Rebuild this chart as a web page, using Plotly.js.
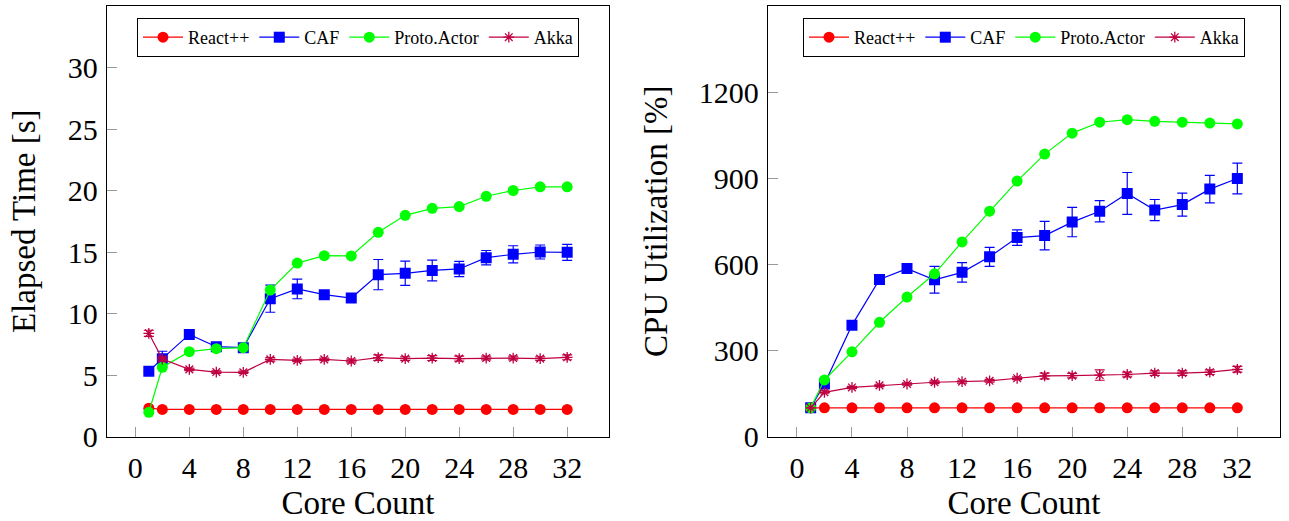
<!DOCTYPE html>
<html>
<head>
<meta charset="utf-8">
<script src="https://cdn.plot.ly/plotly-3.0.1.min.js"></script>
<style>html,body{margin:0;padding:0;background:#fff;}#chart{width:1289px;height:521px;}</style>
</head>
<body>
<div id="chart"></div>
<script>
// ---- data ----
const cores = [1, 2, 4, 6, 8, 10, 12, 14, 16, 18, 20, 22, 24, 26, 28, 30, 32];
const seriesNames = ["React++", "CAF", "Proto.Actor", "Akka"];

// Elapsed time [s]
const reactTime = [2.3, 2.2, 2.2, 2.2, 2.2, 2.2, 2.2, 2.2, 2.2, 2.2, 2.2, 2.2, 2.2, 2.2, 2.2, 2.2, 2.2];
const cafTime   = [5.3, 6.33, 8.3, 7.3, 7.22, 11.2, 12.0, 11.53, 11.26, 13.16, 13.27, 13.5, 13.62, 14.54, 14.81, 15.0, 14.97];
const protoTime = [1.97, 5.63, 6.9, 7.14, 7.22, 11.91, 14.1, 14.7, 14.68, 16.6, 17.98, 18.55, 18.69, 19.53, 20.0, 20.3, 20.3];
const akkaTime  = [8.39, 6.3, 5.46, 5.24, 5.22, 6.27, 6.19, 6.27, 6.14, 6.41, 6.33, 6.38, 6.33, 6.38, 6.38, 6.33, 6.44];
const cafTimeErr  = [0.05, 0.6, 0.1, 0.1, 0.15, 1.1, 0.8, 0.15, 0.15, 1.23, 0.99, 0.84, 0.62, 0.58, 0.7, 0.57, 0.65];
const akkaTimeErr = [0.25, 0.15, 0.1, 0.1, 0.1, 0.15, 0.1, 0.1, 0.15, 0.22, 0.15, 0.2, 0.2, 0.15, 0.15, 0.15, 0.2];

// CPU utilization [%]
const reactCpu = [100, 100, 100, 100, 100, 100, 100, 100, 100, 100, 100, 100, 100, 100, 100, 100, 100];
const cafCpu   = [100, 183, 388, 547, 585, 546, 572, 626, 693, 700, 747, 785, 847, 789, 808, 862, 899];
const protoCpu = [100, 197, 295, 398, 486, 567, 678, 785, 890, 984, 1057, 1095, 1104, 1098, 1095, 1092, 1089];
const akkaCpu  = [100, 154, 171, 178, 183, 189, 191, 194, 203, 211, 212, 214, 216, 221, 221, 224, 234];
const cafCpuErr  = [0, 10, 8, 8, 12, 46.6, 33.8, 33, 27, 49.5, 51, 37, 72.8, 36.7, 40, 48, 53.6];
const akkaCpuErr = [0, 5, 4, 4, 4, 5, 5, 5, 5, 10, 8, 18, 8, 8, 8, 8, 10];

const yTicksTime = [0, 5, 10, 15, 20, 25, 30];
const yTicksCpu = [0, 300, 600, 900, 1200];
const xTicks = [0, 4, 8, 12, 16, 20, 24, 28, 32];

// ---- styles ----
const colors = ["#ff0000", "#0000ff", "#00ff00", "#bf0040"];
const symbols = ["circle", "square", "circle", "asterisk-open"];
const sizes = [11, 11, 11, 9];
const FONT = "Liberation Serif";

function tr(i, y, err, xa, ya, leg) {
  const t = {
    x: cores, y: y, name: seriesNames[i], type: "scatter", mode: "lines+markers",
    xaxis: xa, yaxis: ya, legend: leg, showlegend: true,
    line: {color: colors[i], width: 1.2},
    marker: {symbol: symbols[i], size: sizes[i], color: colors[i],
             line: {color: colors[i], width: i === 3 ? 1.3 : 0}}
  };
  if (err) {
    t.error_y = {type: "data", array: err, visible: true, color: colors[i], thickness: 1.2, width: 5};
  }
  return t;
}

const data = [
  tr(0, reactTime, null, "x", "y", "legend"),
  tr(1, cafTime, cafTimeErr, "x", "y", "legend"),
  tr(2, protoTime, null, "x", "y", "legend"),
  tr(3, akkaTime, akkaTimeErr, "x", "y", "legend"),
  tr(0, reactCpu, null, "x2", "y2", "legend2"),
  tr(1, cafCpu, cafCpuErr, "x2", "y2", "legend2"),
  tr(2, protoCpu, null, "x2", "y2", "legend2"),
  tr(3, akkaCpu, akkaCpuErr, "x2", "y2", "legend2")
];

const W = 1289, H = 521;
const tickFont = {family: FONT, size: 30, color: "#000"};
const titleFont = {family: FONT, size: 33, color: "#000"};
function xaxis(domain, anchor) {
  return {
    domain: domain, anchor: anchor, range: [-2.1, 35.1],
    tickvals: xTicks, ticktext: xTicks.map(String),
    ticks: "inside", ticklen: 10, tickcolor: "#999", tickwidth: 1,
    showline: true, linecolor: "#000", linewidth: 1.3, mirror: true,
    showgrid: false, zeroline: false, tickfont: tickFont, ticklabelstandoff: 4,
    title: {text: "Core Count", font: titleFont, standoff: 11}
  };
}
function yaxis(domain, anchor, range, ticks, title, standoff) {
  return {
    domain: domain, anchor: anchor, range: range,
    tickvals: ticks, ticktext: ticks.map(String),
    ticks: "inside", ticklen: 10, tickcolor: "#999", tickwidth: 1,
    showline: true, linecolor: "#000", linewidth: 1.3, mirror: true,
    showgrid: false, zeroline: false, tickfont: tickFont, ticklabelstandoff: 2,
    title: {text: title, font: titleFont, standoff: standoff}
  };
}
const yDom = [(H - 436.5) / H, (H - 6) / H];
function legendCfg(cx) {
  return {orientation: "h", x: cx / W, xanchor: "center", y: 1 - 18 / H, yanchor: "top",
          bordercolor: "#000", borderwidth: 1, bgcolor: "#fff",
          font: {family: FONT, size: 18, color: "#000"}, itemwidth: 40};
}
const layout = {
  width: W, height: H,
  margin: {l: 0, r: 0, t: 0, b: 0},
  paper_bgcolor: "#fff", plot_bgcolor: "#fff",
  font: {family: FONT, color: "#000"},
  xaxis: xaxis([107 / W, 609 / W], "y"),
  yaxis: yaxis(yDom, "x", [0, 35], yTicksTime, "Elapsed Time [s]", 22),
  xaxis2: xaxis([768 / W, 1280 / W], "y2"),
  yaxis2: yaxis(yDom, "x2", [0, 1500], yTicksCpu, "CPU Utilization [%]", 21),
  legend: legendCfg(358),
  legend2: legendCfg(1024),
  showlegend: true
};

Plotly.newPlot("chart", data, layout, {displayModeBar: false, staticPlot: true});
</script>
</body>
</html>
